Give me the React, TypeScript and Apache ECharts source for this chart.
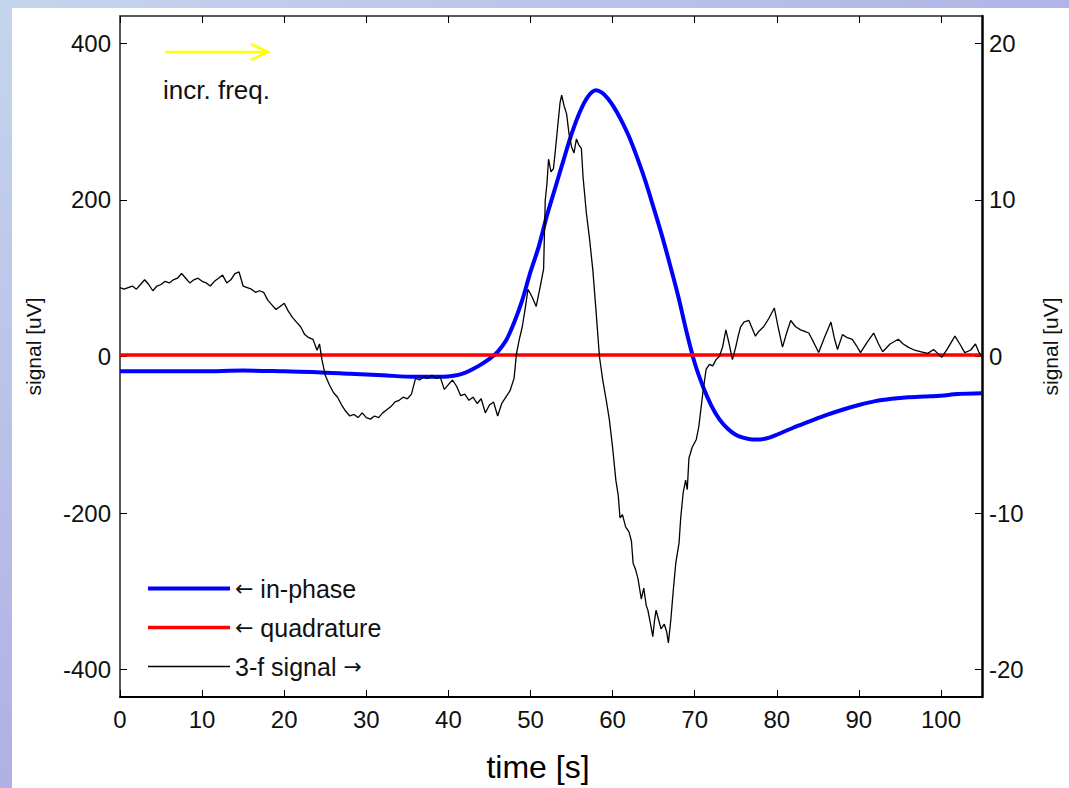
import React, { useEffect, useRef } from "react";
import * as echarts from "echarts";

const xTicks = [0, 105];
const inPhase: [number, number][] = [
  [0, -19], [5, -19], [10, -19], [15, -18], [20, -19], [24, -20], [28, -22], [32, -24], [36, -26], [39, -26],
  [41, -24], [42, -21], [43, -16], [44, -10], [45, -3], [46, 6], [47, 20], [48, 43], [49, 72], [50, 108],
  [51, 140], [52, 180], [53, 215], [54, 250], [55, 284], [56, 312], [57, 332], [58, 340], [58.7, 337], [59.4, 330],
  [60.2, 318], [61, 303], [62, 281], [63, 254], [64, 224], [65, 190], [66, 155], [67, 117], [68, 77], [69, 32],
  [70, -8], [71, -38], [72, -62], [73, -80], [74, -92], [75, -100], [76, -104], [77, -106], [78, -106], [79, -104],
  [80, -100], [82, -91], [84, -83], [86, -75], [88, -68], [90, -62], [92, -57], [94, -54], [96, -52], [98, -51],
  [100, -50], [102, -48], [105, -47],
];
const quadrature: [number, number][] = [
  [0, 2], [105, 2],
];
const threeF: [number, number][] = [
  [0, 4.4], [0.5, 4.3], [1, 4.4], [1.5, 4.5], [2, 4.3], [2.5, 4.6], [3, 4.9], [3.5, 4.6], [4, 4.2], [4.5, 4.5],
  [5, 4.6], [5.5, 4.8], [6, 4.7], [6.5, 4.9], [7, 5.0], [7.5, 5.3], [8, 5.0], [8.5, 4.7], [9, 4.9], [9.5, 5.0],
  [10, 4.8], [10.5, 4.7], [11, 4.5], [11.5, 4.8], [12, 5.0], [12.5, 5.2], [13, 4.7], [13.5, 4.9], [14, 5.3], [14.5, 5.4],
  [15, 4.5], [15.5, 4.4], [16, 4.3], [16.5, 4.1], [17, 4.2], [17.5, 4.1], [18, 3.6], [18.5, 3.3], [19, 3.0], [19.5, 3.2],
  [20, 3.4], [20.5, 2.9], [21, 2.5], [21.5, 2.2], [22, 1.9], [22.5, 1.4], [23, 1.2], [23.5, 1.1], [24, 0.4], [24.3, 0.8],
  [24.6, -0.2], [25, -1.2], [25.5, -1.8], [26, -2.3], [26.5, -2.6], [27, -3.1], [27.5, -3.5], [28, -3.8], [28.5, -3.7], [29, -3.9],
  [29.5, -3.6], [30, -3.9], [30.5, -4.0], [31, -3.8], [31.5, -3.9], [32, -3.6], [32.5, -3.4], [33, -3.2], [33.5, -2.9], [34, -2.8],
  [34.5, -2.6], [35, -2.7], [35.5, -2.4], [36, -1.4], [36.5, -1.5], [37, -1.3], [37.5, -1.4], [38, -1.2], [38.5, -1.4], [39, -1.3],
  [39.5, -2.1], [40, -1.8], [40.5, -1.5], [41, -1.9], [41.5, -2.5], [42, -2.4], [42.5, -2.8], [43, -2.6], [43.5, -3.0], [44, -2.7],
  [44.5, -3.6], [45, -3.1], [45.5, -2.9], [46, -3.8], [46.5, -3.0], [47, -2.6], [47.5, -2.2], [48, -1.4], [48.3, 0.2], [48.6, 1.0],
  [49, 1.9], [49.4, 3.2], [49.7, 4.3], [50.2, 3.8], [50.7, 3.2], [51.2, 4.5], [51.6, 5.6], [51.8, 10.0], [52.0, 11.0], [52.2, 12.6],
  [52.5, 11.8], [52.8, 12.0], [53.0, 13.0], [53.3, 14.6], [53.6, 16.2], [53.8, 16.7], [54.1, 16.0], [54.4, 15.5], [54.7, 14.2], [55.0, 13.4],
  [55.3, 13.0], [55.6, 13.9], [55.9, 13.5], [56.2, 13.3], [56.4, 11.5], [56.8, 9.2], [57.2, 7.5], [57.6, 5.5], [58.0, 2.8], [58.4, 0.0],
  [58.8, -1.5], [59.2, -2.7], [59.6, -4.0], [60.0, -5.8], [60.4, -7.9], [60.7, -8.9], [60.9, -10.3], [61.2, -10.1], [61.6, -10.9], [62.0, -11.2],
  [62.3, -11.8], [62.5, -13.2], [62.8, -13.6], [63.1, -14.2], [63.5, -15.5], [63.8, -14.8], [64.1, -15.9], [64.3, -16.2], [64.7, -17.3], [64.9, -17.9],
  [65.1, -16.9], [65.3, -16.2], [65.6, -16.8], [65.9, -17.4], [66.3, -17.1], [66.6, -17.6], [66.8, -18.3], [67.1, -16.8], [67.4, -14.9], [67.7, -13.2],
  [68.1, -11.9], [68.3, -10.3], [68.6, -8.7], [68.9, -7.9], [69.1, -8.5], [69.3, -6.5], [69.7, -5.8], [70.2, -5.3], [70.5, -4.5], [71, -2.3],
  [71.4, -0.8], [71.8, -0.5], [72.2, -0.6], [72.6, -0.2], [73, 0.0], [73.4, 0.6], [73.8, 1.7], [74.2, 0.8], [74.6, -0.2], [75, 0.6],
  [75.3, 1.3], [75.6, 1.9], [76, 2.2], [76.6, 2.3], [77, 1.8], [77.4, 1.3], [77.8, 1.6], [78.4, 1.9], [79, 2.4], [79.7, 3.1],
  [80.2, 1.8], [80.7, 0.6], [81.2, 1.5], [81.7, 2.3], [82.3, 1.9], [82.9, 1.7], [83.4, 1.6], [83.9, 1.5], [84.5, 0.9], [85.1, 0.25],
  [85.8, 1.2], [86.6, 2.2], [87, 1.2], [87.4, 0.45], [88, 1.4], [88.6, 1.2], [89.2, 1.1], [89.7, 0.7], [90.2, 0.25], [91, 0.9],
  [91.8, 1.5], [92.4, 0.8], [92.9, 0.3], [93.8, 0.8], [94.8, 1.1], [95.4, 0.8], [96, 0.6], [96.8, 0.4], [97.6, 0.3], [98.4, 0.2],
  [99.1, 0.45], [99.6, 0.2], [100.1, -0.05], [100.8, 0.5], [101.7, 1.3], [102.3, 0.8], [102.9, 0.25], [103.6, 0.4], [104.2, 0.8], [104.6, 0.3],
  [105, 0],
];
const leftRange = [-435, 435];
const rightRange = [-21.75, 21.75];
const legendNames = ["← in-phase", "← quadrature", "3-f signal →"];

const FONT = "'Liberation Sans', Arial, sans-serif";

export default function App() {
  const ref = useRef<HTMLDivElement>(null);
  useEffect(() => {
    if (!ref.current) return;
    const chart = echarts.init(ref.current, null, { renderer: "svg" });
    const tickLabel = { color: "#111", fontSize: 24, fontFamily: FONT };
    const tick = { show: true, inside: true, length: 7, lineStyle: { color: "#000", width: 1 } };
    chart.setOption({
      animation: false,
      backgroundColor: "#fff",
      grid: { left: 108, top: 8, right: 82, bottom: 91 },
      legend: {
        orient: "vertical",
        left: 129,
        top: 563,
        itemWidth: 82,
        itemHeight: 20,
        itemGap: 14,
        selectedMode: false,
        itemStyle: { opacity: 0 },
        formatter: (n: string) => n.replace("←", "{a|←}").replace("→", "{a|→}"),
        textStyle: {
          color: "#111",
          fontSize: 25,
          lineHeight: 20,
          fontFamily: FONT,
          rich: { a: { fontFamily: "'DejaVu Sans', sans-serif", fontSize: 22, color: "#111", lineHeight: 20 } },
        },
        data: [
          { name: legendNames[0], lineStyle: { width: 4, color: "#0000ff" } },
          { name: legendNames[1], lineStyle: { width: 3.5, color: "#ff0000" } },
          { name: legendNames[2], lineStyle: { width: 1.3, color: "#000" } },
        ],
      },
      xAxis: [
        {
          type: "value",
          min: xTicks[0],
          max: xTicks[1],
          interval: 10,
          position: "bottom",
          name: "time [s]",
          nameLocation: "middle",
          nameGap: 54,
          nameTextStyle: { color: "#000", fontSize: 32, fontFamily: FONT, padding: [0, 26, 0, 0] },
          axisLine: { onZero: false, lineStyle: { color: "#000", width: 2 } },
          axisTick: tick,
          axisLabel: { ...tickLabel, showMaxLabel: false, margin: 10 },
          splitLine: { show: false },
        },
        {
          type: "value",
          min: xTicks[0],
          max: xTicks[1],
          interval: 10,
          position: "top",
          axisLine: { onZero: false, lineStyle: { color: "#222", width: 1.5 } },
          axisTick: tick,
          axisLabel: { show: false },
          splitLine: { show: false },
        },
      ],
      yAxis: [
        {
          type: "value",
          min: leftRange[0],
          max: leftRange[1],
          position: "left",
          name: "signal [uV]",
          nameLocation: "middle",
          nameGap: 76,
          nameTextStyle: { color: "#111", fontSize: 21, fontFamily: FONT, padding: [0, 0, 0, 20] },
          axisLine: { show: true, onZero: false, lineStyle: { color: "#222", width: 1.5 } },
          axisTick: tick,
          axisLabel: { ...tickLabel, showMinLabel: false, showMaxLabel: false, margin: 9 },
          splitLine: { show: false },
        },
        {
          type: "value",
          min: rightRange[0],
          max: rightRange[1],
          position: "right",
          name: "signal [uV]",
          nameLocation: "middle",
          nameGap: 58,
          nameRotate: 90,
          nameTextStyle: { color: "#111", fontSize: 21, fontFamily: FONT, padding: [0, 0, 0, 20] },
          axisLine: { show: true, onZero: false, lineStyle: { color: "#000", width: 2.5 } },
          axisTick: tick,
          axisLabel: { ...tickLabel, showMinLabel: false, showMaxLabel: false, margin: 7 },
          splitLine: { show: false },
        },
      ],
      graphic: [
        {
          type: "line",
          shape: { x1: 153, y1: 44, x2: 256, y2: 44 },
          style: { stroke: "#ffff00", lineWidth: 2.5 },
        },
        {
          type: "polyline",
          shape: { points: [[239, 36], [256, 44], [239, 52]] },
          style: { stroke: "#ffff00", lineWidth: 2.5, fill: "none" },
        },
        {
          type: "text",
          x: 151,
          y: 69,
          style: { text: "incr. freq.", fill: "#111", fontSize: 26, fontFamily: FONT },
        },
      ],
      series: [
        {
          name: legendNames[0],
          type: "line",
          xAxisIndex: 0,
          yAxisIndex: 0,
          data: inPhase,
          smooth: 0.3,
          showSymbol: false,
          symbol: "none",
          lineStyle: { color: "#0000ff", width: 4 },
          itemStyle: { color: "#0000ff" },
        },
        {
          name: legendNames[1],
          type: "line",
          xAxisIndex: 0,
          yAxisIndex: 0,
          data: quadrature,
          showSymbol: false,
          symbol: "none",
          lineStyle: { color: "#ff0000", width: 3.5 },
          itemStyle: { color: "#ff0000" },
        },
        {
          name: legendNames[2],
          type: "line",
          xAxisIndex: 0,
          yAxisIndex: 1,
          data: threeF,
          showSymbol: false,
          symbol: "none",
          lineStyle: { color: "#000", width: 1.3 },
          itemStyle: { color: "#000" },
        },
      ],
    });
    return () => chart.dispose();
  }, []);
  return (
    <div style={{ position: "fixed", left: 0, top: 0, width: 1069, height: 788, overflow: "hidden", background: "#fff" }}>
      <div style={{ position: "absolute", left: 0, top: 0, width: 1069, height: 8, background: "linear-gradient(to right, #c5d5ed, #b0b4e6)" }} />
      <div style={{ position: "absolute", left: 0, top: 0, width: 12, height: 788, background: "linear-gradient(to bottom, #c5d5ed, #b0b0e4)" }} />
      <div ref={ref} style={{ position: "absolute", left: 12, top: 8, width: 1057, height: 780 }} />
    </div>
  );
}
